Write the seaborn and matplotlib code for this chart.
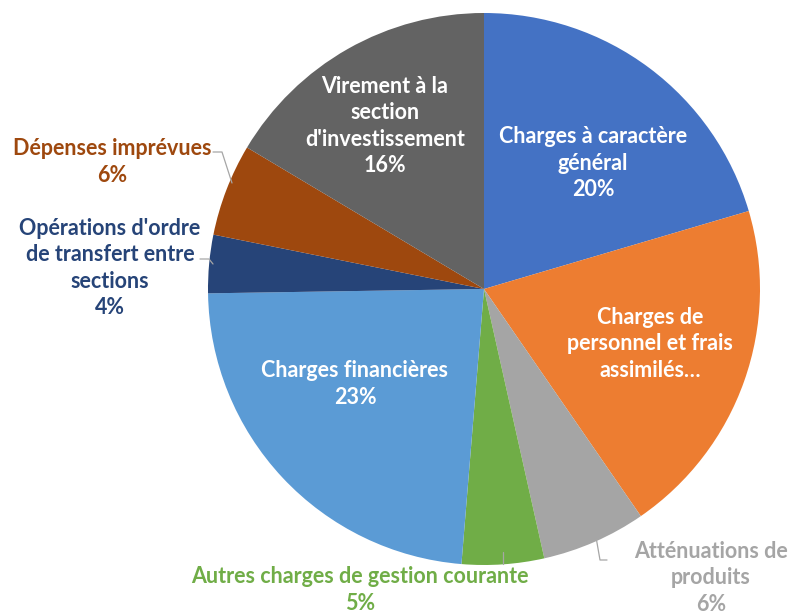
import numpy as np
import matplotlib.pyplot as plt
import seaborn as sns

# budget split, clockwise from 12 o'clock (percent)
categories = [
    "Charges à caractère\ngénéral",
    "Charges de\npersonnel et frais\nassimilés…",
    "Atténuations de\nproduits",
    "Autres charges de gestion courante",
    "Charges financières",
    "Opérations d'ordre\nde transfert entre\nsections",
    "Dépenses imprévues",
    "Virement à la\nsection\nd'investissement",
]
values = [20.4, 19.9, 6.1, 4.8, 23.4, 3.4, 5.4, 16.4]
pct_labels = ["20%", None, "6%", "5%", "23%", "4%", "6%", "16%"]

colors = ["#4472C4", "#ED7D31", "#A5A5A5", "#70AD47",
          "#5B9BD5", "#264478", "#9E480E", "#636363"]

sns.set_theme(style="white")
plt.rcParams['font.family'] = ['Lato', 'DejaVu Sans']

W, H = 789, 613
fig = plt.figure(figsize=(W / 100, H / 100), dpi=100)
ax = fig.add_axes([0, 0, 1, 1])

cx, cy, r = 484, 289, 276
# y axis is inverted, so counterclock=True draws clockwise on screen
wedges, _ = ax.pie(values, colors=colors, startangle=-90, counterclock=True,
                   center=(cx, cy), radius=r, frame=True,
                   wedgeprops=dict(linewidth=0))
ax.set_xlim(0, W)
ax.set_ylim(H, 0)
ax.set_aspect('equal')
ax.axis('off')

# label anchor (pixel coords), text colour, inside/outside
label_pos = [(593, 163), (650, 344), (711, 578), (360, 590),
             (355, 384), (110, 268), (112, 162), (385, 126)]
inside = [True, True, False, False, True, False, False, True]

for name, pct, (x, y), col, ins in zip(categories, pct_labels, label_pos, colors, inside):
    txt = name if pct is None else name + "\n" + pct
    ax.text(x, y, txt, ha='center', va='center', fontsize=15.5, fontweight='bold',
            color='white' if ins else col, linespacing=1.3)

# leader lines for outside labels
lc = '#A6A6A6'
ax.plot([213, 222, 232], [152, 152, 183], color=lc, lw=0.9)
ax.plot([200, 209, 213], [259, 259, 264], color=lc, lw=0.9)
ax.plot([596, 600, 607], [537, 560, 560], color=lc, lw=0.9)
ax.plot([503, 503], [552, 564], color=lc, lw=0.9)

fig.savefig("out.png", dpi=100)
